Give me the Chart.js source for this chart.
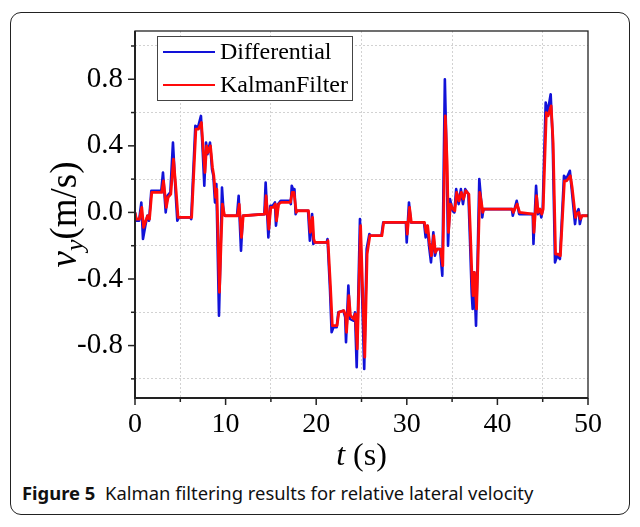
<!DOCTYPE html>
<html><head><meta charset="utf-8">
<script src="https://cdn.jsdelivr.net/npm/chart.js@4.4.0/dist/chart.umd.min.js"></script>
<style>
html,body{margin:0;padding:0;background:#fff;}
#wrap{position:relative;width:640px;height:527px;overflow:hidden;}
#frame{position:absolute;left:10px;top:12px;width:620px;height:503px;border:1.3px solid #222;border-radius:11px;box-sizing:border-box;}
canvas{position:absolute;left:0;top:0;}
#cap{position:absolute;left:22px;top:480px;font-family:"Noto Sans",sans-serif;font-size:18.4px;color:#111;white-space:nowrap;}
#cap b{font-weight:700;margin-right:5px;}
</style></head>
<body><div id="wrap"><div id="frame"></div><canvas id="c" width="640" height="478"></canvas><div id="cap"><b>Figure 5</b> Kalman filtering results for relative lateral velocity</div></div>
<script>
// Differential (blue)
const tDiff=[0.0,0.15,0.45,0.7,0.88,1.14,1.36,1.55,1.8,2.9,3.09,3.39,3.57,3.9,4.19,4.5,4.67,4.85,6.1,6.2,6.66,6.95,7.28,7.5,7.65,7.84,8.0,8.28,8.5,8.65,8.83,8.98,9.27,9.45,9.6,9.79,9.9,11.26,11.44,11.7,11.9,14.28,14.42,14.72,14.94,15.2,15.45,15.56,15.8,16.08,17.1,17.2,17.3,17.5,17.6,17.73,17.85,19.1,19.3,19.55,19.68,19.8,21.16,21.25,21.52,21.7,21.9,22.26,22.44,23.0,23.2,23.29,23.55,23.73,24.1,24.28,24.47,24.83,25.3,25.57,25.87,26.0,27.2,27.4,29.9,29.99,30.24,30.45,31.9,32.08,32.25,32.45,32.67,32.93,33.1,33.3,33.67,33.92,34.2,34.4,34.55,34.77,35.05,35.25,35.45,35.72,35.97,36.2,36.45,36.8,36.97,37.16,37.27,37.42,37.64,37.8,38.0,38.19,38.33,38.45,41.6,41.7,42.13,42.4,43.9,43.98,44.27,44.46,44.65,44.85,45.0,45.33,45.55,45.88,46.1,46.36,46.6,46.9,47.35,47.6,48.0,48.2,48.57,48.7,48.96,49.1,49.3,50.0];
const vDiff=[0.00,-0.05,-0.05,0.06,-0.16,-0.08,-0.02,-0.05,0.13,0.13,0.24,0.00,0.10,0.12,0.42,0.10,-0.05,-0.03,-0.03,-0.04,0.52,0.51,0.58,0.34,0.16,0.42,0.35,0.42,0.26,0.22,0.06,0.17,-0.62,-0.22,0.15,-0.01,-0.02,-0.02,0.10,-0.23,-0.02,-0.01,0.18,-0.15,0.04,0.04,0.06,-0.08,0.05,0.07,0.07,0.05,0.16,0.13,0.14,-0.01,0.01,0.01,-0.17,-0.01,-0.19,-0.18,-0.18,-0.16,-0.46,-0.72,-0.69,-0.69,-0.60,-0.59,-0.63,-0.78,-0.44,-0.64,-0.65,-0.60,-0.93,-0.04,-0.94,-0.22,-0.13,-0.14,-0.14,-0.06,-0.06,-0.18,0.06,-0.06,-0.06,-0.15,-0.08,-0.20,-0.30,-0.12,-0.26,-0.22,-0.22,-0.38,0.80,0.32,-0.20,0.08,0.01,0.00,0.14,0.05,0.14,0.05,0.14,0.11,-0.16,-0.48,-0.58,-0.36,-0.68,-0.32,0.20,0.08,-0.03,0.02,0.02,-0.02,0.07,-0.01,-0.01,-0.19,0.16,-0.01,0.02,-0.03,0.02,0.66,0.60,0.71,0.44,-0.30,-0.26,-0.28,0.22,0.20,0.25,0.14,-0.07,-0.01,0.02,-0.07,-0.02,-0.02];
// KalmanFilter (red)
const tKal=[0.0,0.15,0.5,0.75,0.95,1.2,1.4,1.6,1.85,2.95,3.15,3.45,3.65,3.95,4.25,4.55,4.75,4.9,6.15,6.25,6.72,7.0,7.33,7.55,7.72,7.9,8.05,8.33,8.55,8.7,8.9,9.03,9.32,9.5,9.65,9.85,9.95,11.3,11.5,11.75,11.95,14.32,14.47,14.77,14.99,15.25,15.5,15.62,15.85,16.13,17.15,17.35,17.55,17.65,17.8,17.9,19.15,19.35,19.6,19.73,19.85,21.2,21.3,21.57,21.78,21.95,22.3,22.5,23.05,23.25,23.35,23.6,23.78,24.15,24.32,24.53,24.9,25.36,25.62,25.92,26.05,27.25,27.45,29.95,30.05,30.3,30.5,31.95,32.13,32.3,32.5,32.72,32.98,33.15,33.35,33.72,33.97,34.25,34.45,34.6,34.82,35.1,35.3,35.5,35.77,36.02,36.25,36.5,36.85,37.02,37.2,37.32,37.47,37.7,37.85,38.05,38.24,38.38,38.5,41.65,41.75,42.18,42.45,43.95,44.03,44.32,44.5,44.7,44.9,45.05,45.4,45.6,45.93,46.15,46.42,46.65,46.95,47.4,47.65,48.05,48.25,48.62,48.75,49.0,49.15,49.35,50.0];
const vKal=[0.00,-0.04,-0.04,0.03,-0.09,-0.05,-0.02,-0.04,0.12,0.12,0.19,0.03,0.09,0.11,0.32,0.12,-0.03,-0.03,-0.03,-0.03,0.50,0.50,0.54,0.36,0.24,0.40,0.36,0.40,0.27,0.22,0.09,0.14,-0.48,-0.18,0.05,-0.01,-0.02,-0.02,0.05,-0.15,-0.02,-0.01,0.10,-0.10,0.03,0.03,0.05,-0.05,0.05,0.06,0.06,0.12,0.12,0.12,0.00,0.01,0.01,-0.12,-0.03,-0.16,-0.18,-0.18,-0.17,-0.44,-0.68,-0.68,-0.68,-0.60,-0.59,-0.62,-0.72,-0.50,-0.62,-0.64,-0.61,-0.82,-0.08,-0.87,-0.25,-0.14,-0.14,-0.14,-0.06,-0.06,-0.13,0.03,-0.06,-0.06,-0.12,-0.08,-0.18,-0.26,-0.14,-0.24,-0.22,-0.22,-0.32,0.58,0.30,-0.12,0.05,0.02,0.01,0.12,0.07,0.12,0.08,0.13,0.11,-0.12,-0.40,-0.50,-0.36,-0.58,-0.30,0.12,0.06,0.00,0.02,0.02,0.00,0.05,0.00,-0.01,-0.12,0.10,0.00,0.02,-0.01,0.02,0.60,0.58,0.64,0.42,-0.25,-0.25,-0.26,0.19,0.19,0.22,0.15,-0.03,-0.01,0.00,-0.04,-0.02,-0.02];
const seriesNames=['Differential','KalmanFilter'];
const seriesColors=['#1212d8','#ff0a0a'];
const xRange=[0,50], xStep=5, xLabelEvery=10;
const yRange=[-1.115,1.09], yStep=0.2;

const SERIF='"Liberation Serif","Times New Roman",serif';
const pts=(t,v)=>t.map((x,i)=>({x:x,y:v[i]}));

const deco={
  id:'deco',
  afterDraw(chart){
    const {ctx,chartArea:a,scales}=chart;
    ctx.save();
    ctx.strokeStyle='#222';ctx.lineWidth=1.5;
    scales.x.ticks.forEach(tk=>{
      const px=scales.x.getPixelForValue(tk.value);
      const major=Math.round(tk.value)%xLabelEvery===0;
      ctx.beginPath();ctx.moveTo(px,a.bottom);ctx.lineTo(px,a.bottom+(major?7:4));ctx.stroke();
    });
    scales.y.ticks.forEach(tk=>{
      const py=scales.y.getPixelForValue(tk.value);
      const major=Math.round(tk.value*10)%4===0;
      ctx.beginPath();ctx.moveTo(a.left,py);ctx.lineTo(a.left-(major?7:4),py);ctx.stroke();
    });
    ctx.strokeStyle='#222';ctx.lineWidth=1.3;
    ctx.strokeRect(a.left,a.top,a.right-a.left,a.bottom-a.top);
    ctx.lineWidth=2;
    ctx.beginPath();ctx.moveTo(a.left,a.top);ctx.lineTo(a.left,a.bottom);ctx.lineTo(a.right,a.bottom);ctx.stroke();
    const lx=a.left+22, ly=a.top+5, lw=195, lh=64;
    ctx.fillStyle='#fff';ctx.fillRect(lx,ly,lw,lh);
    ctx.strokeStyle='#444';ctx.lineWidth=1;ctx.strokeRect(lx+0.5,ly+0.5,lw,lh);
    ctx.font='24px '+SERIF;ctx.textBaseline='middle';ctx.fillStyle='#000';
    seriesNames.forEach((n,i)=>{
      const yy=ly+16+i*33;
      ctx.strokeStyle=seriesColors[i];ctx.lineWidth=2.2;
      ctx.beginPath();ctx.moveTo(lx+6,yy);ctx.lineTo(lx+58,yy);ctx.stroke();
      ctx.fillText(n,lx+63,yy+1);
    });
    ctx.textBaseline='alphabetic';
    ctx.font='italic 32px '+SERIF;
    const w1=ctx.measureText('t').width;
    ctx.font='32px '+SERIF;
    const w2=ctx.measureText(' (s)').width;
    const cx=(a.left+a.right)/2, bx=cx-(w1+w2)/2, by=465;
    ctx.font='italic 32px '+SERIF;ctx.fillText('t',bx,by);
    ctx.font='32px '+SERIF;ctx.fillText(' (s)',bx+w1,by);
    ctx.save();
    ctx.translate(76,(a.top+a.bottom)/2);
    ctx.rotate(-Math.PI/2);
    ctx.font='italic 37px '+SERIF;const v1=ctx.measureText('v').width;
    ctx.font='italic 26px '+SERIF;const v2=ctx.measureText('y').width;
    ctx.font='37px '+SERIF;const v3=ctx.measureText('(m/s)').width;
    let sx=-(v1+v2+v3)/2;
    ctx.font='italic 37px '+SERIF;ctx.fillText('v',sx,0);sx+=v1;
    ctx.font='italic 26px '+SERIF;ctx.fillText('y',sx,7);sx+=v2;
    ctx.font='37px '+SERIF;ctx.fillText('(m/s)',sx,0);
    ctx.restore();
    ctx.restore();
  }
};

new Chart(document.getElementById('c'),{
  type:'line',
  data:{datasets:[
    {label:seriesNames[0],data:pts(tDiff,vDiff),borderColor:seriesColors[0],borderWidth:2.6,order:1},
    {label:seriesNames[1],data:pts(tKal,vKal),borderColor:seriesColors[1],borderWidth:2.8,order:0}
  ]},
  options:{
    responsive:false,animation:false,
    layout:{padding:{top:31,right:52,left:0,bottom:0}},
    elements:{point:{radius:0},line:{tension:0,borderJoinStyle:'round'}},
    plugins:{legend:{display:false},tooltip:{enabled:false}},
    scales:{
      x:{type:'linear',min:xRange[0],max:xRange[1],
        ticks:{stepSize:xStep,autoSkip:false,maxRotation:0,padding:10,color:'#000',font:{family:SERIF,size:28},
          callback:v=>Math.round(v)%xLabelEvery===0?String(Math.round(v)):''},
        grid:{drawTicks:false,lineWidth:1,color:c=>(c.tick&&Math.round(c.tick.value)%xLabelEvery!==0)?'#d2d2d2':'rgba(0,0,0,0)'},
        border:{display:false,dash:[2,2]},
        afterFit:s=>{s.height=80;}
      },
      y:{type:'linear',min:yRange[0],max:yRange[1],
        ticks:{stepSize:yStep,includeBounds:false,autoSkip:false,padding:12,color:'#000',font:{family:SERIF,size:29},
          callback:v=>{const k=Math.round(v*10);return (k%4===0&&Math.abs(v*10-k)<1e-6)?(k/10).toFixed(1):'';}},
        grid:{drawTicks:false,lineWidth:1,color:c=>(c.tick&&Math.round(c.tick.value*10)%4!==0)?'#d2d2d2':'rgba(0,0,0,0)'},
        border:{display:false,dash:[2,2]},
        afterFit:s=>{s.width=135;}
      }
    }
  },
  plugins:[deco]
});
</script>
</body></html>
